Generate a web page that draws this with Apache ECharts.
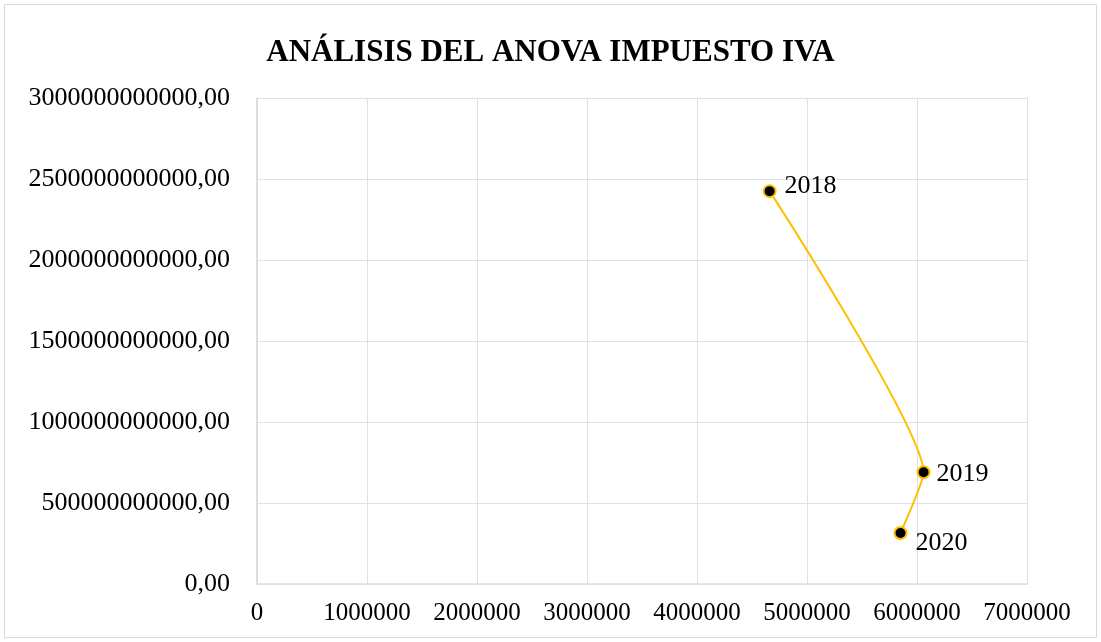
<!DOCTYPE html>
<html>
<head>
<meta charset="utf-8">
<script src="https://cdn.jsdelivr.net/npm/echarts@6/dist/echarts.min.js"></script>
<style>
  html, body { margin: 0; padding: 0; background: #fff; }
  #chart { width: 1101px; height: 642px; }
</style>
</head>
<body>
<div id="chart"></div>
<script>
// datos
var years = ['2018', '2019', '2020'];
var xValues = [4660000, 6060000, 5850000];
var yValues = [2425000000000, 690000000000, 315000000000];
var labelPos = ['right', 'right', 'right'];

var serif = '"Liberation Serif", "Times New Roman", serif';

var points = [];
for (var i = 0; i < years.length; i++) {
  points.push({
    value: [xValues[i], yValues[i]],
    name: years[i],
    label: { position: labelPos[i], offset: i == 2 ? [0, 10] : (i == 0 ? [0, -5] : [-2, 2]) }
  });
}

var myChart = echarts.init(document.getElementById('chart'));
var option = {
  animation: false,
  backgroundColor: '#fff',
  title: {
    text: 'ANÁLISIS DEL ANOVA IMPUESTO IVA',
    left: 'center',
    top: 32,
    textStyle: { fontFamily: serif, fontSize: 31, fontWeight: 'bold', color: '#000' }
  },
  graphic: [{
    type: 'rect',
    shape: { x: 4.5, y: 4.5, width: 1092, height: 633 },
    style: { fill: null, stroke: '#D9D9D9', lineWidth: 1 },
    silent: true
  }],
  grid: { left: 257, right: 74, top: 98, bottom: 58 },
  xAxis: {
    type: 'value',
    min: 0, max: 7000000, interval: 1000000,
    axisLine: { show: true, lineStyle: { color: '#D9DEE6', width: 1.5 } },
    axisTick: { show: false },
    splitLine: { show: true, lineStyle: { color: '#DDE2EA' } },
    axisLabel: {
      fontFamily: serif, fontSize: 25, color: '#000', margin: 17,
      formatter: function (v) { return String(v); }
    }
  },
  yAxis: {
    type: 'value',
    min: 0, max: 3000000000000, interval: 500000000000,
    axisLine: { show: true, lineStyle: { color: '#D0D6E0', width: 1.5 } },
    axisTick: { show: false },
    splitLine: { show: true, lineStyle: { color: '#DDE2EA' } },
    axisLabel: {
      fontFamily: serif, fontSize: 26, color: '#000', margin: 27,
      formatter: function (v) { return v.toFixed(2).replace('.', ','); }
    }
  },
  series: [{
    type: 'line',
    data: points,
    smooth: 0.15,
    symbol: 'circle',
    symbolSize: 12,
    lineStyle: { color: '#FFC000', width: 2 },
    itemStyle: { color: '#000', borderColor: '#FFC000', borderWidth: 2 },
    label: {
      show: true,
      formatter: '{b}',
      fontFamily: serif, fontSize: 26, color: '#000', distance: 8
    }
  }]
};
myChart.setOption(option);
</script>
</body>
</html>
